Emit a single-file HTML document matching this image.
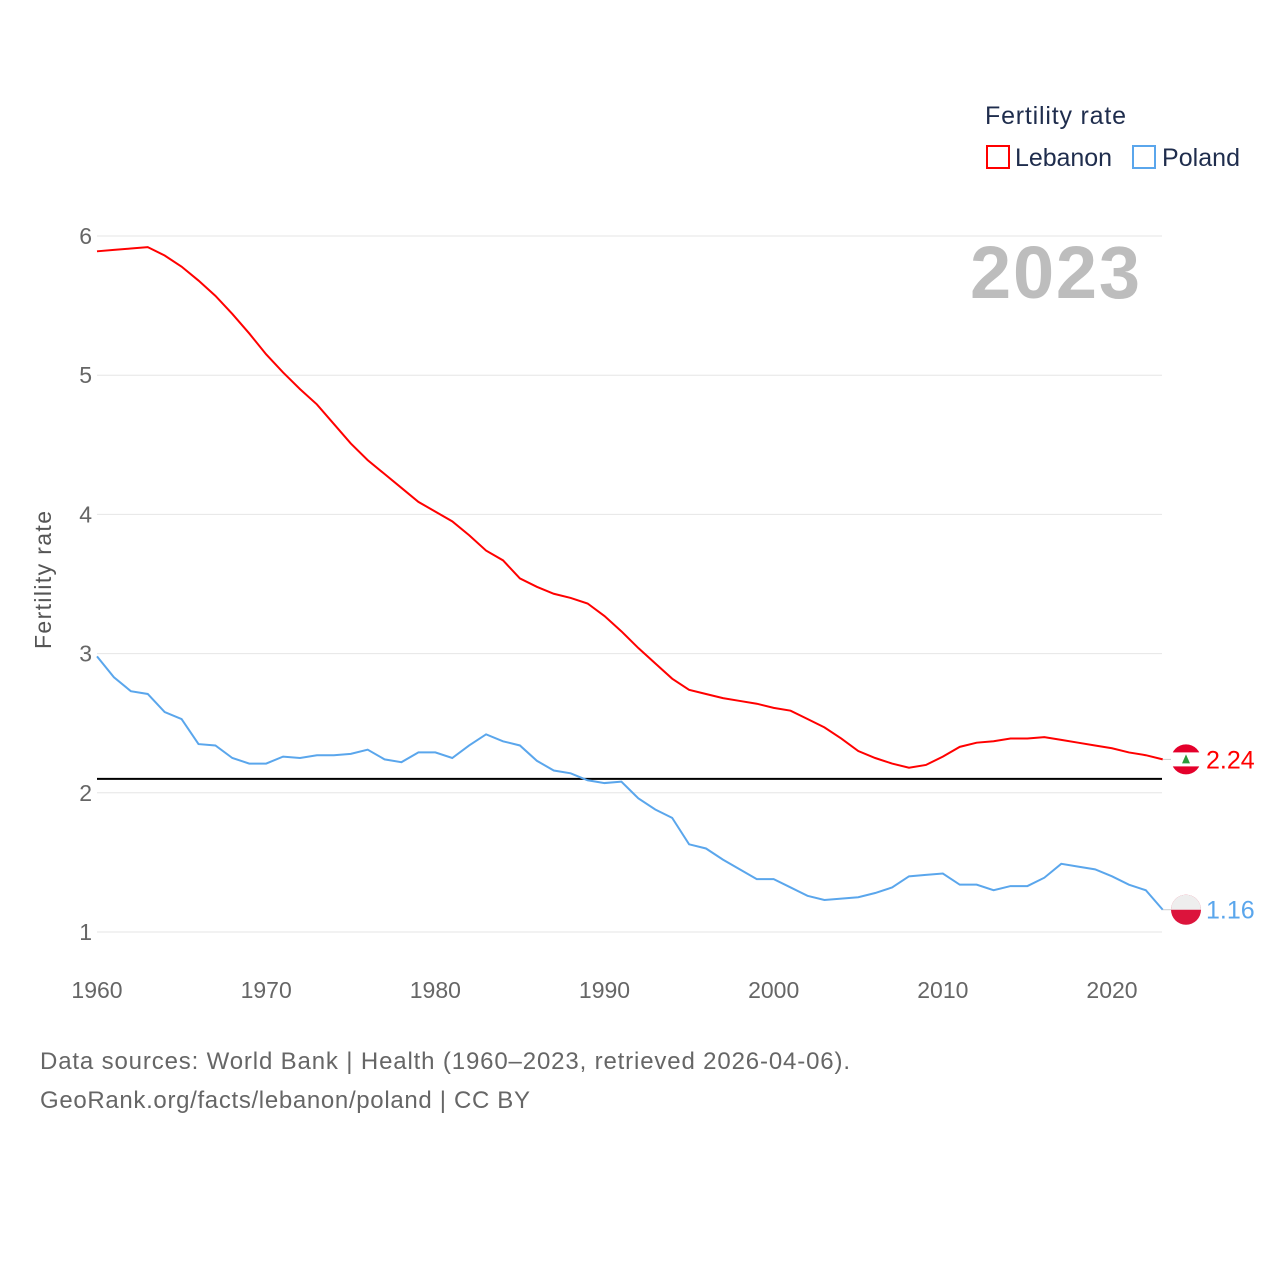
<!DOCTYPE html>
<html><head><meta charset="utf-8"><style>
body{margin:0;background:#fff;font-family:"Liberation Sans",sans-serif}
svg text{font-family:"Liberation Sans",sans-serif}
</style></head><body>
<svg width="1280" height="1280" xmlns="http://www.w3.org/2000/svg">
<g id="grid"></g>
<text x="1140" y="298" text-anchor="end" font-size="74" font-weight="bold" fill="#bdbdbd" textLength="170">2023</text>
<text x="51" y="580" transform="rotate(-90 51 580)" text-anchor="middle" font-size="23" fill="#555" textLength="138">Fertility rate</text>
<g id="marks"></g>
<text x="985" y="124" font-size="25" fill="#1f2d4d" textLength="141">Fertility rate</text>
<g><rect x="987" y="146" width="22" height="22" fill="none" stroke="#f00" stroke-width="2"/><text x="1015" y="166" font-size="25" fill="#1f2d4d" textLength="97">Lebanon</text></g>
<g><rect x="1133" y="146" width="22" height="22" fill="none" stroke="#5aa6ec" stroke-width="2"/><text x="1162" y="166" font-size="25" fill="#1f2d4d" textLength="78">Poland</text></g>
<text x="40" y="1069" font-size="24" fill="#666" textLength="810">Data sources: World Bank | Health (1960–2023, retrieved 2026-04-06).</text>
<text x="40" y="1108" font-size="24" fill="#666" textLength="490">GeoRank.org/facts/lebanon/poland | CC BY</text>
</svg>
<script>
const years=[];for(let y=1960;y<=2023;y++)years.push(y);
const lebanon=[5.89,5.90,5.91,5.92,5.86,5.78,5.68,5.57,5.44,5.30,5.15,5.02,4.90,4.79,4.65,4.51,4.39,4.29,4.19,4.09,4.02,3.95,3.85,3.74,3.67,3.54,3.48,3.43,3.40,3.36,3.27,3.16,3.04,2.93,2.82,2.74,2.71,2.68,2.66,2.64,2.61,2.59,2.53,2.47,2.39,2.30,2.25,2.21,2.18,2.20,2.26,2.33,2.36,2.37,2.39,2.39,2.40,2.38,2.36,2.34,2.32,2.29,2.27,2.24];
const poland=[2.98,2.83,2.73,2.71,2.58,2.53,2.35,2.34,2.25,2.21,2.21,2.26,2.25,2.27,2.27,2.28,2.31,2.24,2.22,2.29,2.29,2.25,2.34,2.42,2.37,2.34,2.23,2.16,2.14,2.09,2.07,2.08,1.96,1.88,1.82,1.63,1.60,1.52,1.45,1.38,1.38,1.32,1.26,1.23,1.24,1.25,1.28,1.32,1.40,1.41,1.42,1.34,1.34,1.30,1.33,1.33,1.39,1.49,1.47,1.45,1.40,1.34,1.30,1.16];
const yTicks=[1,2,3,4,5,6];const xTicks=[1960,1970,1980,1990,2000,2010,2020];
const refLine=2.1;
const X=y=>97+(y-1960)*1015/60, Y=v=>932-(v-1)*139.2;
const NS="http://www.w3.org/2000/svg";
function mk(t,a,p){const e=document.createElementNS(NS,t);for(const k in a)e.setAttribute(k,a[k]);p.appendChild(e);return e;}
const g=document.getElementById('grid'),m=document.getElementById('marks');
yTicks.forEach(v=>{const l=mk('line',{x1:97,x2:1162,y1:Y(v),y2:Y(v),stroke:'#e6e6e6'},g);


const t=mk('text',{x:92,y:Y(v)+8,'text-anchor':'end','font-size':23,fill:'#666'},g);t.textContent=v;

});
xTicks.forEach(v=>{const t=mk('text',{x:X(v),y:998,'text-anchor':'middle','font-size':23,fill:'#666'},g);t.textContent=v;

});
const rl=mk('line',{x1:97,x2:1162,y1:Y(refLine),y2:Y(refLine),stroke:'#000','stroke-width':2},m);


function series(d,c,name){const p=mk('path',{d:d.map((v,i)=>(i?'L':'M')+X(years[i])+','+Y(v)).join(''),fill:'none',stroke:c,'stroke-width':2},m);


const last=d[d.length-1],ly=Y(last);
mk('line',{x1:X(2023),x2:1172,y1:ly,y2:ly,stroke:'#ccc'},m);
const f=mk('g',{},m);


if(name==='lebanon'){mk('circle',{cx:1186,cy:ly,r:15,fill:'#e4002b'},f);mk('rect',{x:1171,y:ly-7,width:30,height:14,fill:'#fff'},f);mk('path',{d:`M1186 ${ly-5}L1182 ${ly+4}L1190 ${ly+4}Z`,fill:'#2a9a3a'},f);}
else{mk('circle',{cx:1186,cy:ly,r:15,fill:'#dc143c'},f);mk('path',{d:`M1171 ${ly}A15 15 0 0 1 1201 ${ly}Z`,fill:'#eee'},f);}
const t=mk('text',{x:1206,y:ly+9,'font-size':25,fill:c},m);t.textContent=last.toFixed(2);

}
series(lebanon,'#f00','lebanon');series(poland,'#5aa6ec','poland');
</script></body></html>
